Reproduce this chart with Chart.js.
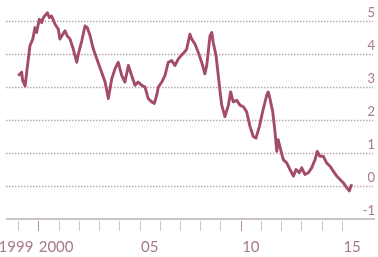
<!DOCTYPE html>
<html>
<head>
<meta charset="utf-8">
<script src="https://cdn.jsdelivr.net/npm/chart.js@4"></script>
<style>
  html, body { margin: 0; padding: 0; background: #fff; }
  canvas { display: block; }
</style>
</head>
<body>
<canvas id="c" width="378" height="257"></canvas>
<script>
// ─── Data (decimal year, yield %) ───
const years = [
  1999.01, 1999.18, 1999.23, 1999.35, 1999.43, 1999.51, 1999.59, 1999.73, 1999.84, 1999.92,
  2000.05, 2000.17, 2000.25, 2000.38, 2000.45, 2000.55, 2000.66, 2000.83, 2000.99,
  2001.07, 2001.21, 2001.32, 2001.43, 2001.57, 2001.73, 2001.90, 2001.98,
  2002.15, 2002.31, 2002.42, 2002.56, 2002.72, 2002.92,
  2003.13, 2003.30, 2003.46, 2003.63, 2003.79, 2003.95,
  2004.12, 2004.28, 2004.45, 2004.61, 2004.78, 2004.94,
  2005.11, 2005.27, 2005.43, 2005.60, 2005.73, 2005.85, 2005.93,
  2006.10, 2006.26, 2006.42, 2006.59, 2006.75, 2006.92,
  2007.05, 2007.21, 2007.33, 2007.49, 2007.58, 2007.74, 2007.90,
  2008.07, 2008.23, 2008.32, 2008.48, 2008.57, 2008.64, 2008.78, 2008.89, 2008.98,
  2009.06, 2009.22, 2009.39, 2009.50, 2009.63, 2009.80, 2009.96,
  2010.13, 2010.29, 2010.46, 2010.62, 2010.75, 2010.92,
  2011.08, 2011.28, 2011.36, 2011.44, 2011.58, 2011.69, 2011.78, 2011.85, 2011.97,
  2012.10, 2012.27, 2012.43, 2012.60, 2012.73, 2012.89,
  2013.01, 2013.17, 2013.34, 2013.50, 2013.67, 2013.78, 2013.91,
  2014.08, 2014.24, 2014.41, 2014.57, 2014.74, 2014.90,
  2015.06, 2015.23, 2015.36, 2015.48
];
const yields = [
  3.34, 3.45, 3.2, 3.03, 3.45, 3.85, 4.25, 4.45, 4.8, 4.65,
  5.05, 4.95, 5.1, 5.2, 5.25, 5.1, 5.15, 4.9, 4.75,
  4.45, 4.6, 4.7, 4.55, 4.45, 4.15, 3.75, 4.0,
  4.4, 4.85, 4.8, 4.55, 4.15, 3.8,
  3.45, 3.15, 2.65, 3.25, 3.55, 3.75,
  3.35, 3.15, 3.65, 3.35, 3.05, 3.15,
  3.05, 3.0, 2.65, 2.55, 2.5, 2.75, 3.0,
  3.15, 3.35, 3.75, 3.8, 3.65, 3.85,
  3.95, 4.05, 4.15, 4.6, 4.45, 4.3, 4.05,
  3.75, 3.4, 3.65, 4.55, 4.65, 4.35, 3.95, 3.35, 2.85,
  2.45, 2.1, 2.45, 2.85, 2.55, 2.6, 2.45,
  2.4, 2.25, 1.8, 1.5, 1.45, 1.8,
  2.25, 2.75, 2.85, 2.65, 2.25, 1.65, 1.05, 1.4, 1.1,
  0.8, 0.7, 0.5, 0.3, 0.5, 0.4,
  0.55, 0.35, 0.4, 0.55, 0.8, 1.05, 0.9,
  0.9, 0.7, 0.6, 0.45, 0.3, 0.2,
  0.1, -0.05, -0.15, 0.05
];

// y axis ticks (right side), x axis year ticks and labels
const yTicks = [-1, 0, 1, 2, 3, 4, 5];
const yTickLabels = ["-1", "0", "1", "2", "3", "4", "5"];
const tickYears = [1999, 2000, 2001, 2002, 2003, 2004, 2005, 2006, 2007,
                   2008, 2009, 2010, 2011, 2012, 2013, 2014, 2015];
const darkTickYears = [2000, 2010];
const xLabels = ["1999", "2000", "05", "10", "15"];
const xLabelPos = [1998.9, 2000.88, 2005.5, 2010.5, 2015.5];

const LINE = "#a34c69";
const LABEL = "#a8798a";

// ── Custom axis drawing ──
const econAxes = {
  id: "econAxes",
  beforeDatasetsDraw(chart) {
    const { ctx, chartArea: a, scales: { x, y } } = chart;
    ctx.save();
    ctx.strokeStyle = "rgba(175,150,158,0.85)";
    ctx.lineWidth = 1.5;
    ctx.setLineDash([1.5, 1.5]);
    yTicks.forEach(v => {
      if (v === yTicks[0]) return;
      const py = Math.round(y.getPixelForValue(v)) + 0.5;
      ctx.beginPath();
      ctx.moveTo(a.left, py);
      ctx.lineTo(a.right - 2, py);
      ctx.stroke();
    });
    ctx.restore();
  },
  afterDraw(chart) {
    const { ctx, chartArea: a, scales: { x, y } } = chart;
    ctx.save();
    // baseline
    const by = y.getPixelForValue(yTicks[0]);
    ctx.strokeStyle = "#cbc3c1";
    ctx.lineWidth = 2;
    ctx.beginPath();
    ctx.moveTo(a.left, by);
    ctx.lineTo(a.right, by);
    ctx.stroke();

    // year ticks
    ctx.lineWidth = 1;
    tickYears.forEach(t => {
      const px = Math.round(x.getPixelForValue(t)) + 0.5;
      ctx.strokeStyle = darkTickYears.includes(t) ? "#b48b98" : "#cdc6c6";
      ctx.beginPath();
      ctx.moveTo(px, by + 2);
      ctx.lineTo(px, by + 12);
      ctx.stroke();
    });

    // y labels, right aligned, sitting above the gridlines
    ctx.fillStyle = LABEL;
    ctx.font = "13px Lato";
    ctx.textAlign = "right";
    ctx.textBaseline = "alphabetic";
    yTicks.forEach((v, i) => {
      ctx.fillText(yTickLabels[i], a.right, y.getPixelForValue(v) - 4);
    });

    // x labels
    ctx.font = "15px Lato";
    ctx.textAlign = "center";
    xLabels.forEach((s, i) => {
      ctx.fillText(s, x.getPixelForValue(xLabelPos[i]), 252);
    });
    ctx.restore();
  }
};

new Chart(document.getElementById("c"), {
  type: "line",
  data: {
    datasets: [{
      data: years.map((t, i) => ({ x: t, y: yields[i] })),
      borderColor: LINE,
      borderWidth: 2.9,
      borderJoinStyle: "round",
      pointRadius: 0,
      tension: 0,
      fill: false
    }]
  },
  options: {
    responsive: false,
    animation: false,
    devicePixelRatio: 1,
    layout: { padding: { left: 6, right: 3, top: 0, bottom: 38 } },
    plugins: { legend: { display: false }, tooltip: { enabled: false } },
    scales: {
      x: { type: "linear", display: false, min: 1998.407, max: 2016.63 },
      y: { type: "linear", display: false, min: -1, max: 5.636 }
    }
  },
  plugins: [econAxes]
});
</script>
</body>
</html>
